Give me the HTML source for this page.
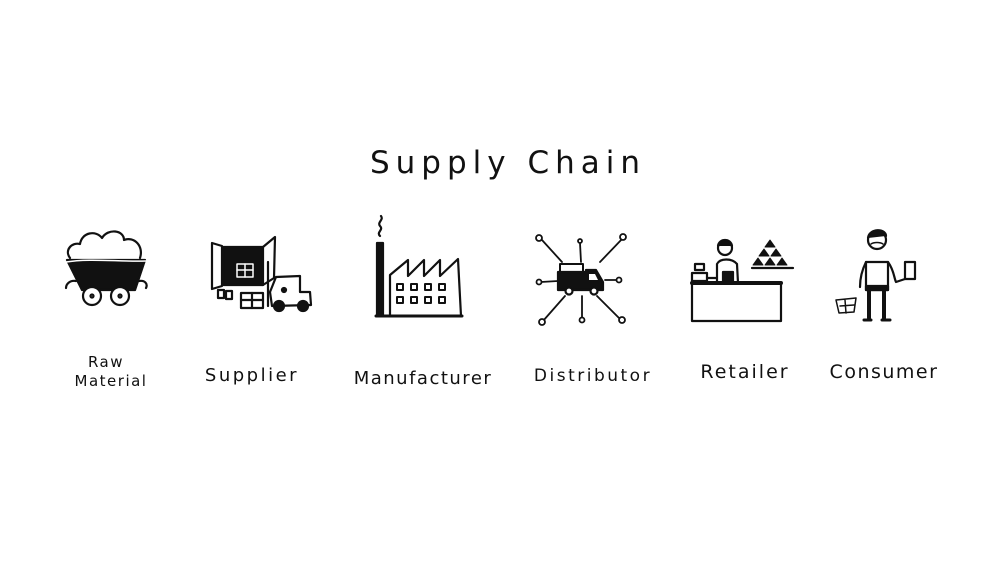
<!DOCTYPE html>
<html><head><style>
html,body{margin:0;padding:0;background:#fff;}
svg{display:block}
text{font-family:"DejaVu Sans","Liberation Sans",sans-serif;fill:#111;text-anchor:middle}
</style></head><body>
<svg width="1000" height="574" viewBox="0 0 1000 574" xmlns="http://www.w3.org/2000/svg">
<text x="508" y="173" font-size="31" letter-spacing="6">Supply Chain</text>

<g stroke="#111" stroke-width="2.2" fill="none" stroke-linecap="round" stroke-linejoin="round">
<!-- Raw material cart -->
<path d="M70 258 C64 250 72 242 80 244 C82 232 96 230 102 238 C108 228 124 230 124 240 C134 236 144 246 140 258" />
<path d="M67 260 L145 260 L135 290 L82 290 Z" fill="#111"/>
<path d="M66 262 C90 258 120 262 146 261" stroke="#fff" stroke-width="1.5"/>
<circle cx="92" cy="296" r="9" fill="#fff"/><circle cx="120" cy="296" r="9" fill="#fff"/>
<circle cx="92" cy="296" r="1.5"/><circle cx="120" cy="296" r="1.5"/>
<path d="M76 281 C70 280 66 284 66 288 M139 281 C145 280 148 284 146 288"/>

<!-- Supplier -->
<path d="M212 243 L222 246 L222 286 L212 289 Z" />
<rect x="223" y="247" width="40" height="38" fill="#111"/>
<path d="M263 247 L275 237 L274 278 L263 285"/>
<rect x="237" y="264" width="16" height="13" stroke="#fff" stroke-width="1.5"/>
<path d="M245 264 V277 M237 270 H253" stroke="#fff" stroke-width="1.5"/>
<rect x="241" y="293" width="22" height="15" fill="#fff"/>
<path d="M252 293 V308 M241 300 H263"/>
<rect x="218" y="290" width="6" height="8"/><rect x="226" y="291" width="6" height="8"/>
<path d="M276 277 L300 276 L300 292 L310 292 L311 305 L272 306 L270 292 Z" fill="#fff"/>
<circle cx="279" cy="306" r="5" fill="#111"/><circle cx="303" cy="306" r="5" fill="#111"/>
<circle cx="284" cy="290" r="2" fill="#111"/>
<path d="M268 262 L268 306"/>

<!-- Factory -->
<rect x="377" y="243" width="6" height="73" fill="#111"/>
<path d="M380 236 C376 232 384 230 380 226 C377 222 384 220 381 216"/>
<path d="M390 316 L390 275 L408 260 L408 276 L424 260 L424 276 L440 260 L440 276 L458 259 L461 316 Z"/>
<path d="M376 316 L462 316" stroke-width="3"/>
<g stroke-width="2">
<rect x="397" y="284" width="6" height="6"/><rect x="411" y="284" width="6" height="6"/><rect x="425" y="284" width="6" height="6"/><rect x="439" y="284" width="6" height="6"/>
<rect x="397" y="297" width="6" height="6"/><rect x="411" y="297" width="6" height="6"/><rect x="425" y="297" width="6" height="6"/><rect x="439" y="297" width="6" height="6"/>
</g>

<!-- Distributor -->
<g stroke-width="1.8">
<path d="M542 240 L562 262 M580 243 L581 262 M623 238 L600 262 M541 282 L558 281 M605 280 L617 280 M543 321 L565 296 M582 319 L582 296 M620 319 L597 296"/>
<circle cx="539" cy="238" r="3" fill="#fff"/><circle cx="580" cy="241" r="2" fill="#fff"/><circle cx="623" cy="237" r="3" fill="#fff"/>
<circle cx="539" cy="282" r="2.5" fill="#fff"/><circle cx="619" cy="280" r="2.5" fill="#fff"/>
<circle cx="542" cy="322" r="3" fill="#fff"/><circle cx="582" cy="320" r="2.5" fill="#fff"/><circle cx="622" cy="320" r="3" fill="#fff"/>
</g>
<path d="M560 264 L583 264 L583 272 L560 272 Z" stroke-width="2"/>
<path d="M558 272 L586 272 L586 270 L596 270 L603 282 L603 290 L558 290 Z" fill="#111"/>
<path d="M589 274 L595 274 L598 280 L589 280 Z" fill="#fff" stroke="none"/>
<circle cx="569" cy="291" r="3.5" fill="#fff"/><circle cx="594" cy="291" r="3.5" fill="#fff"/>

<!-- Retailer -->
<rect x="692" y="283" width="89" height="38"/>
<path d="M692 283 L781 283" stroke-width="4"/>
<circle cx="725" cy="248" r="7"/>
<path d="M718 246 C719 238 731 238 732 246" fill="#111"/>
<path d="M717 283 L717 264 C720 258 732 258 737 264 L738 283"/>
<rect x="723" y="272" width="10" height="11" fill="#111"/>
<rect x="692" y="273" width="15" height="8"/><rect x="695" y="264" width="9" height="6"/>
<path d="M707 278 L716 278"/>
<path d="M752 268 L793 268"/>
<g fill="#111" stroke-width="1">
<path d="M770 240 L775 247 L765 247 Z"/><path d="M764 249 L769 256 L759 256 Z"/><path d="M776 249 L781 256 L771 256 Z"/>
<path d="M758 258 L763 265 L753 265 Z"/><path d="M770 258 L775 265 L765 265 Z"/><path d="M782 258 L787 265 L777 265 Z"/>
</g>

<!-- Consumer -->
<circle cx="877" cy="240" r="9"/>
<path d="M868 238 C869 228 886 228 886 236" fill="#111"/>
<path d="M871 244 C874 242 880 242 883 244" stroke-width="1.5"/>
<path d="M866 262 C862 270 860 278 860 287 M888 262 C894 270 894 278 896 282 L905 279"/>
<path d="M866 262 L888 262 L888 290 L866 290 Z"/>
<rect x="866" y="286" width="22" height="4" fill="#111"/>
<path d="M869 290 L869 318 M884 290 L884 318" stroke-width="4"/>
<path d="M864 320 L871 320 M882 320 L890 320" stroke-width="3"/>
<rect x="905" y="262" width="10" height="17"/>
<path d="M836 300 L856 298 L854 312 L839 313 Z M840 306 L854 305 M845 300 L846 313" stroke-width="1.5"/>
</g>

<g font-size="15" letter-spacing="1.5">
<text x="106" y="367">Raw</text>
<text x="111" y="386">Material</text>
<text x="252" y="381" font-size="18" letter-spacing="2.5">Supplier</text>
<text x="423" y="384" font-size="18">Manufacturer</text>
<text x="593" y="381" font-size="17" letter-spacing="2.5">Distributor</text>
<text x="745" y="378" font-size="19" letter-spacing="2">Retailer</text>
<text x="884" y="378" font-size="19">Consumer</text>
</g>
</svg>
</body></html>
